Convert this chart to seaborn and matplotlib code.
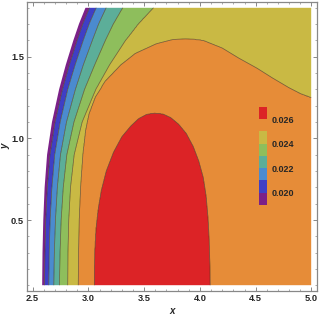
import numpy as np
import matplotlib
matplotlib.use("Agg")
import matplotlib.pyplot as plt
from matplotlib.patches import Polygon
import seaborn as sns

sns.set_theme(style="ticks")
plt.rcParams['font.family'] = ['Liberation Sans', 'DejaVu Sans']

# contour levels and band colours (purple -> red)
band_edges = [0.019, 0.020, 0.021, 0.022, 0.023, 0.024, 0.025, 0.026, 0.027]
line_levels = [0.020, 0.021, 0.022, 0.023, 0.024, 0.025, 0.026]
band_colors = ["#7B2088", "#3F3FC6", "#4B8BCF", "#5CAE99", "#8EBE5C",
               "#C9B944", "#E68C38", "#DC2326"]
legend_ticks = [0.020, 0.022, 0.024, 0.026]

# domain edge (white area on the left) and the left-hand contour arcs,
# x positions read at these heights
rows_y = [0.1, 0.3, 0.5, 0.7, 0.9, 1.1, 1.3, 1.45, 1.6, 1.7, 1.8]
edge_x = [2.586, 2.589, 2.596, 2.608, 2.630, 2.674, 2.738, 2.798, 2.866, 2.916, 2.975]
c020_x = [2.607, 2.611, 2.618, 2.632, 2.656, 2.702, 2.768, 2.830, 2.900, 2.950, 3.011]
c021_x = [2.645, 2.649, 2.657, 2.673, 2.698, 2.747, 2.815, 2.881, 2.954, 3.007, 3.071]
c022_x = [2.690, 2.695, 2.705, 2.722, 2.750, 2.804, 2.884, 2.955, 3.036, 3.092, 3.160]
c023_x = [2.741, 2.746, 2.756, 2.775, 2.807, 2.871, 2.966, 3.057, 3.153, 3.224, 3.309]
c024_x = [2.815, 2.817, 2.824, 2.840, 2.873, 2.945, 3.068, 3.191, 3.334, 3.447, 3.584]

# yellow / orange boundary with its hump
c025_x = [2.909, 2.912, 2.918, 2.930, 2.950, 2.975, 3.005, 3.06, 3.15, 3.29, 3.42,
          3.61, 3.75, 3.88, 4.03, 4.20, 4.35, 4.51, 4.65, 4.80, 4.90, 5.0]
c025_y = [0.1, 0.3, 0.5, 0.7, 0.9, 1.05, 1.15, 1.25, 1.35, 1.45, 1.52,
          1.579, 1.603, 1.61, 1.598, 1.552, 1.49, 1.43, 1.37, 1.31, 1.275, 1.25]

# red blob
c026_x = [3.052, 3.056, 3.068, 3.088, 3.115, 3.16, 3.225, 3.30, 3.38, 3.45, 3.52,
          3.593, 3.67, 3.74, 3.81, 3.877, 3.94, 3.99, 4.03, 4.055, 4.072, 4.083,
          4.09, 4.092]
c026_y = [0.1, 0.3, 0.45, 0.57, 0.68, 0.80, 0.915, 1.01, 1.075, 1.12, 1.145,
          1.154, 1.147, 1.125, 1.085, 1.03, 0.95, 0.86, 0.76, 0.65, 0.52, 0.38,
          0.22, 0.1]

edge_val = 0.0195
curves = [(edge_x, rows_y, edge_val), (c020_x, rows_y, 0.020), (c021_x, rows_y, 0.021),
          (c022_x, rows_y, 0.022), (c023_x, rows_y, 0.023), (c024_x, rows_y, 0.024),
          (c025_x, c025_y, 0.025), (c026_x, c026_y, 0.026)]


def crossings(px, py, y):
    out = []
    for i in range(len(px) - 1):
        y0, y1 = py[i], py[i + 1]
        if y0 == y1:
            continue
        if min(y0, y1) <= y < max(y0, y1):
            t = (y - y0) / (y1 - y0)
            out.append(px[i] + t * (px[i + 1] - px[i]))
    return out


# build the field row by row from the level crossings
xg = np.linspace(2.5, 5.0, 700)
yg = np.linspace(0.1, 1.8, 450)
Z = np.full((len(yg), len(xg)), np.nan)
for j, y in enumerate(yg):
    yq = min(y, 1.8 - 1e-9)
    knots = []
    for cx, cy, lev in curves:
        knots += [(x, lev) for x in crossings(cx, cy, yq)]
    knots.sort()
    xs, zs = [], []
    for k, (x, lev) in enumerate(knots):
        if k > 0 and knots[k - 1][1] == lev:
            xs.append(0.5 * (x + knots[k - 1][0]))
            zs.append(lev + 0.0005)
        xs.append(x)
        zs.append(lev)
    last = knots[-1][1]
    n_last = sum(1 for _, l in knots if l == last)
    if xs[-1] < 5.0:
        xs.append(5.0)
        zs.append(last + (0.0005 if n_last % 2 else -0.0005))
    Z[j] = np.interp(xg, xs, zs)

X, Y = np.meshgrid(xg, yg)

fig = plt.figure(figsize=(3.19, 3.17), dpi=100)
ax = fig.add_axes([27 / 319, 26 / 317, 290 / 319, 289 / 317])

cf = ax.contourf(X, Y, Z, levels=band_edges, colors=band_colors, antialiased=True)
cl = ax.contour(X, Y, Z, levels=line_levels, colors="#4a3a1c", linewidths=0.5, alpha=0.8)

# clip everything to the region right of the domain edge
domain = Polygon(list(zip(edge_x, rows_y)) + [(5.0, 1.8), (5.0, 0.1)],
                 closed=True, transform=ax.transData, facecolor="none", edgecolor="none")
ax.add_patch(domain)
cf.set_clip_path(domain)
cl.set_clip_path(domain)

ax.set_xlim(2.45, 5.05)
ax.set_ylim(0.066, 1.834)
ax.set_xticks([2.5, 3.0, 3.5, 4.0, 4.5, 5.0])
ax.set_yticks([0.5, 1.0, 1.5])
ax.set_xticks(np.arange(2.5, 5.01, 0.1), minor=True)
ax.set_yticks(np.arange(0.1, 1.81, 0.1), minor=True)
ax.tick_params(which="both", direction="in", top=True, right=True, color="#888888")
ax.tick_params(which="major", length=3, width=0.7, labelsize=6.7, pad=2)
ax.tick_params(which="minor", length=1.6, width=0.5)
for lab in ax.get_xticklabels() + ax.get_yticklabels():
    lab.set_fontweight("bold")
for s in ax.spines.values():
    s.set_color("#888888")
    s.set_linewidth(0.9)

ax.set_xlabel("x", fontsize=7, fontstyle="italic", fontweight="bold", va="center")
ax.set_ylabel("y", fontsize=7, fontstyle="italic", fontweight="bold")
ax.xaxis.set_label_coords(0.5, -0.07)
ax.yaxis.set_label_coords(-0.058, 0.5)

cax = fig.add_axes([259 / 319, 112 / 317, 8 / 319, 98 / 317])
cb = fig.colorbar(cf, cax=cax, ticks=legend_ticks)
cb.outline.set_visible(False)
cax.tick_params(length=0, labelsize=6.5, pad=3)
cax.set_yticklabels([f"{t:.3f}" for t in legend_ticks], fontweight="bold")

fig.savefig("out.png", dpi=100)
